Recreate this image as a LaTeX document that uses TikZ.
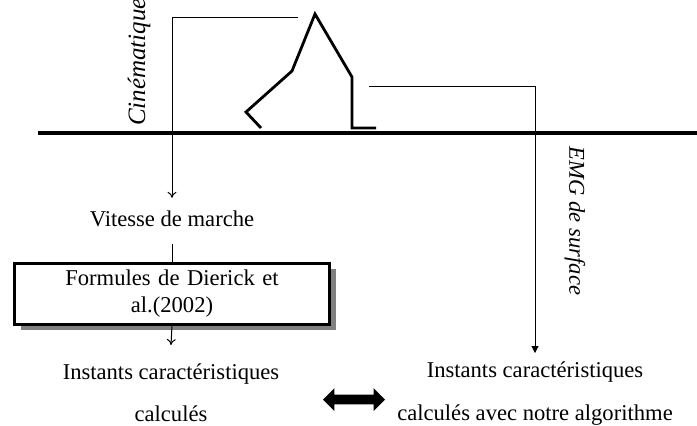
\documentclass[tikz,border=0pt]{standalone}
\usepackage{fontspec}
\setmainfont{Liberation Serif}
\usetikzlibrary{arrows.meta,shadows,shapes.arrows}
\definecolor{shadowgray}{HTML}{808080}
\newcommand{\txtfont}{\fontsize{11.3}{21.2}\selectfont}
\newcommand{\boxfont}{\fontsize{11.3}{13.2}\selectfont}
\tikzset{
  lbl/.style={align=center, font=\txtfont, text height=0.7em, text depth=0.2em,
              inner xsep=2pt, inner ysep=6.9pt},
  reslbl/.style={align=center, font=\txtfont, inner xsep=2pt, anchor=north},
  sidelbl/.style={font=\txtfont\itshape, inner sep=0pt},
  formbox/.style={draw, line width=1.5pt, fill=white, minimum width=157.5pt,
                  minimum height=30.5pt, text width=150pt, align=center, font=\boxfont,
                  drop shadow={shadow xshift=3pt, shadow yshift=-3pt, fill=shadowgray, opacity=1}},
  cinarr/.style={-{To[length=3pt, width=4.5pt]}, line width=0.5pt},
  emgarr/.style={-{Triangle[length=3.5pt, width=3.5pt]}, line width=0.5pt},
  thinline/.style={line width=0.5pt},
  ground/.style={line width=2pt},
  legline/.style={line width=1.4pt, line join=miter}}

\begin{document}
\begin{tikzpicture}[x=0.5pt, y=-0.5pt]
    \useasboundingbox (0,0) rectangle (697,425);
    % sol et jambe
    \draw[ground] (38,133) -- (697,133);
    \draw[legline] (261,128) -- (246,112) -- (292,71) -- (315,14) -- (352,77)
      -- (352,128) -- (376,128);
    % labels lateraux
    \node[sidelbl, rotate=90, font=\fontsize{12.5}{14}\selectfont\itshape] (cin) at (139,62) {Cinématique};
    \node[sidelbl, rotate=-90] (emg) at (575,221) {EMG de surface};
    \coordinate (cinS) at (298,17);
    \coordinate (emgS) at (369,86);
    % colonne de gauche
    \node[lbl] (vit) at (172,221) {Vitesse de marche};
    \node[formbox] (form) at (172,293.5) {Formules de Dierick et\\al.(2002)};
    \node[reslbl, inner ysep=9.2pt] (calcL) at (171,345) {Instants caractéristiques\\calculés};
    % colonne de droite
    \node[reslbl, inner ysep=4.4pt] (calcR) at (535,353) {Instants caractéristiques\\calculés avec notre algorithme};
    \node[double arrow, fill=black, inner xsep=0pt, inner ysep=2.25pt,
          double arrow head extend=3.25pt, minimum height=31pt] (cmp) at (354,399.5) {};
    \draw[cinarr] (cinS) -| (vit.north);
    \draw[thinline] (vit.south) -- (form.north);
    \draw[cinarr] (form.south) -- (calcL.north);
    \draw[emgarr] (emgS) -| (calcR.north);
  \end{tikzpicture}
\end{document}
